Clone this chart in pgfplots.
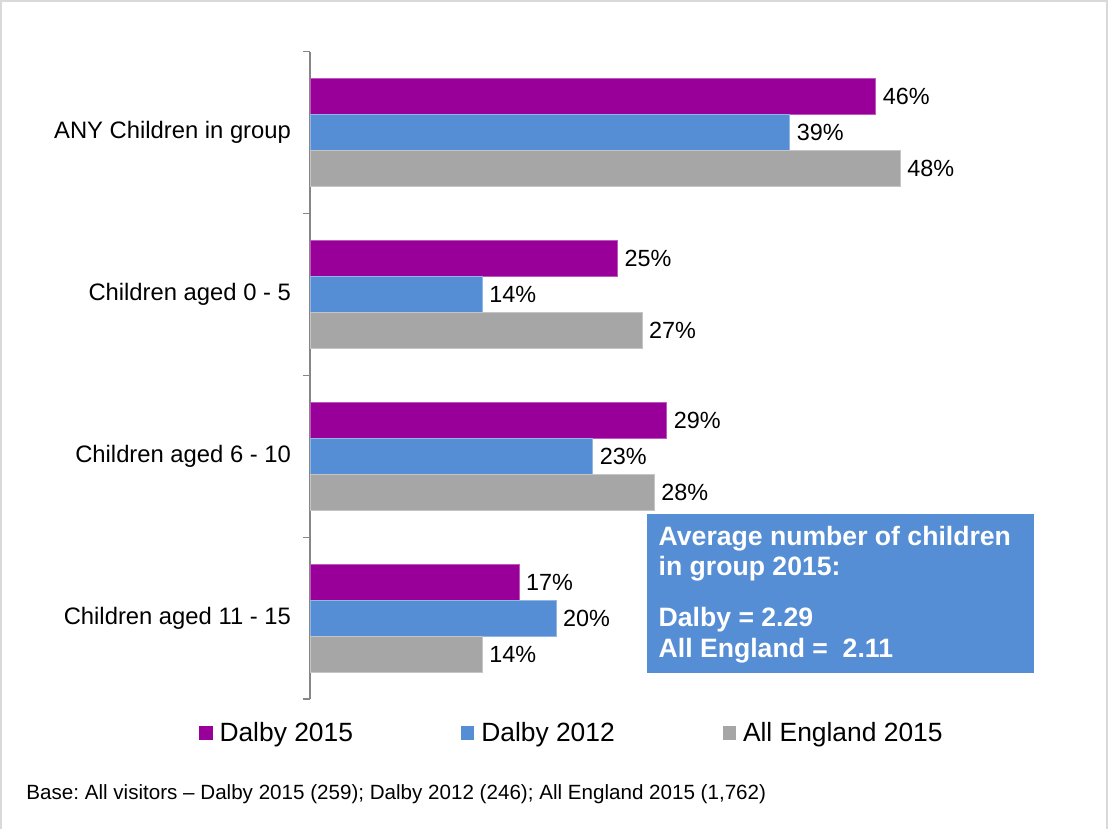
\documentclass[border=0pt]{standalone}
\usepackage{fontspec}
\setmainfont{Liberation Sans}
\usepackage{pgfplots}
\pgfplotsset{compat=1.18}
\definecolor{cPurple}{HTML}{990099}
\definecolor{cBlue}{HTML}{558ED5}
\definecolor{cGray}{HTML}{A6A6A6}
\definecolor{cAxis}{HTML}{868686}
\definecolor{cFrame}{HTML}{D9D9D9}
\pgfplotsset{sqlegend/.style={legend image code/.code={\path[##1,draw=none] (0pt,-3.35pt) rectangle (6.7pt,3.35pt);}}}
\begin{document}
\frenchspacing
\begin{tikzpicture}
\path[use as bounding box] (0,0) rectangle (554pt,414.5pt);
\draw[cFrame, line width=1pt] (0.5pt,0) -- (0.5pt,414pt) -- (553.5pt,414pt) -- (553.5pt,0);
\begin{axis}[
  at={(155pt,65pt)}, anchor=south west,
  scale only axis, width=369pt, height=323.65pt,
  xmin=0, xmax=60, ymin=-0.5, ymax=3.5,
  xbar, bar width=0.2225,
  axis x line=none, axis y line*=left,
  y axis line style={cAxis, line width=0.6pt, -},
  ytick={0,1,2,3},
  yticklabels={Children aged 11 - 15, Children aged 6 - 10, Children aged 0 - 5, ANY Children in group},
  major tick length=0pt,
  minor ytick={-0.5,0.5,1.5,2.5,3.5},
  minor tick length=3.5pt,
  tick align=outside,
  tick style={cAxis, line width=0.6pt},
  yticklabel style={font=\fontsize{11.9}{14}\selectfont, xshift=-6pt},
  /pgf/number format/assume math mode=true,
  nodes near coords={\pgfmathprintnumber{\pgfplotspointmeta}\%},
  nodes near coords style={font=\fontsize{11.7}{14}\selectfont, text=black, anchor=west},
  point meta=x,
  legend columns=3,
  legend style={at={(-0.15,-0.0525)}, anchor=west, draw=none, fill=none, inner sep=0pt, outer sep=0pt,
    font=\fontsize{13.2}{15}\selectfont, nodes={inner sep=0pt},
    /tikz/every odd column/.append style={column sep=3.4pt},
    /tikz/every even column/.append style={column sep=54pt}},
]
\addplot[fill=cPurple, draw=cPurple!65!white, line width=0.4pt, bar shift=0.2225, sqlegend] coordinates {(46,3) (25,2) (29,1) (17,0)};
\addplot[fill=cBlue, draw=cBlue!65!white, line width=0.4pt, bar shift=0, sqlegend] coordinates {(39,3) (14,2) (23,1) (20,0)};
\addplot[fill=cGray, draw=cGray!65!white, line width=0.4pt, bar shift=-0.2225, sqlegend] coordinates {(48,3) (27,2) (28,1) (14,0)};
\legend{Dalby 2015, Dalby 2012, All England 2015}
\end{axis}
\fill[cBlue] (323.65pt,78.15pt) rectangle (517pt,157.5pt);
\begin{scope}[every node/.style={anchor=base west, inner sep=0pt, text=white, font=\bfseries\fontsize{13.3}{15}\selectfont}]
\node at (329.15pt,141.85pt) {Average number of children};
\node at (329.15pt,126.5pt) {in group 2015:};
\node at (329.15pt,101.35pt) {Dalby = 2.29};
\node at (329.15pt,85.65pt) {All England = \ 2.11};
\end{scope}
\node[anchor=base west, inner sep=0pt, font=\fontsize{10.3}{12}\selectfont] at (13pt,14.5pt) {Base: All visitors \textendash{} Dalby 2015 (259); Dalby 2012 (246); All England 2015 (1,762)};
\end{tikzpicture}
\end{document}
